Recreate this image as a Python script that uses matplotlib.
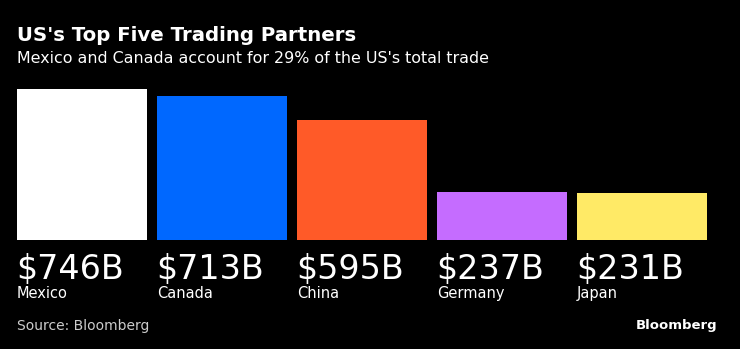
import matplotlib.pyplot as plt

countries = ["Mexico", "Canada", "China", "Germany", "Japan"]
trade = [746, 713, 595, 237, 231]
colors = ["#ffffff", "#0068ff", "#ff5a28", "#c56cff", "#ffea66"]

W, H = 740, 349
fig = plt.figure(figsize=(W / 100, H / 100), dpi=100, facecolor="black")

# axes spans from the left edge of the first bar to the right edge of the last
left, right, top, bottom = 17, 707, 89, 240
ax = fig.add_axes([left / W, (H - bottom) / H, (right - left) / W, (bottom - top) / H])
ax.set_facecolor("black")

step = 140
bw = 130 / step
xs = list(range(len(countries)))
ax.bar(xs, trade, width=bw, color=colors, align="center")
ax.set_xlim(-bw / 2, len(countries) - 1 + bw / 2)
ax.set_ylim(0, max(trade))
ax.axis("off")

for x, v, name in zip(xs, trade, countries):
    ax.annotate(f"${v}B", xy=(x - bw / 2, 0), xytext=(-1, -13), textcoords="offset pixels",
                ha="left", va="top", color="white", fontsize=24)
    ax.annotate(name, xy=(x - bw / 2, 0), xytext=(0, -46), textcoords="offset pixels",
                ha="left", va="top", color="white", fontsize=10.5)

fig.text(17 / W, 1 - 41 / H, "US's Top Five Trading Partners", color="white",
         fontsize=14.2, fontweight="bold", ha="left", va="baseline")
fig.text(17 / W, 1 - 63 / H, "Mexico and Canada account for 29% of the US's total trade",
         color="white", fontsize=11.45, ha="left", va="baseline")
fig.text(17 / W, 1 - 330 / H, "Source: Bloomberg", color="#cccccc", fontsize=10,
         ha="left", va="baseline")
fig.text(717 / W, 1 - 329 / H, "Bloomberg", color="white", fontsize=9.5,
         fontweight="bold", ha="right", va="baseline")

fig.savefig("out.png", dpi=100, facecolor="black")
